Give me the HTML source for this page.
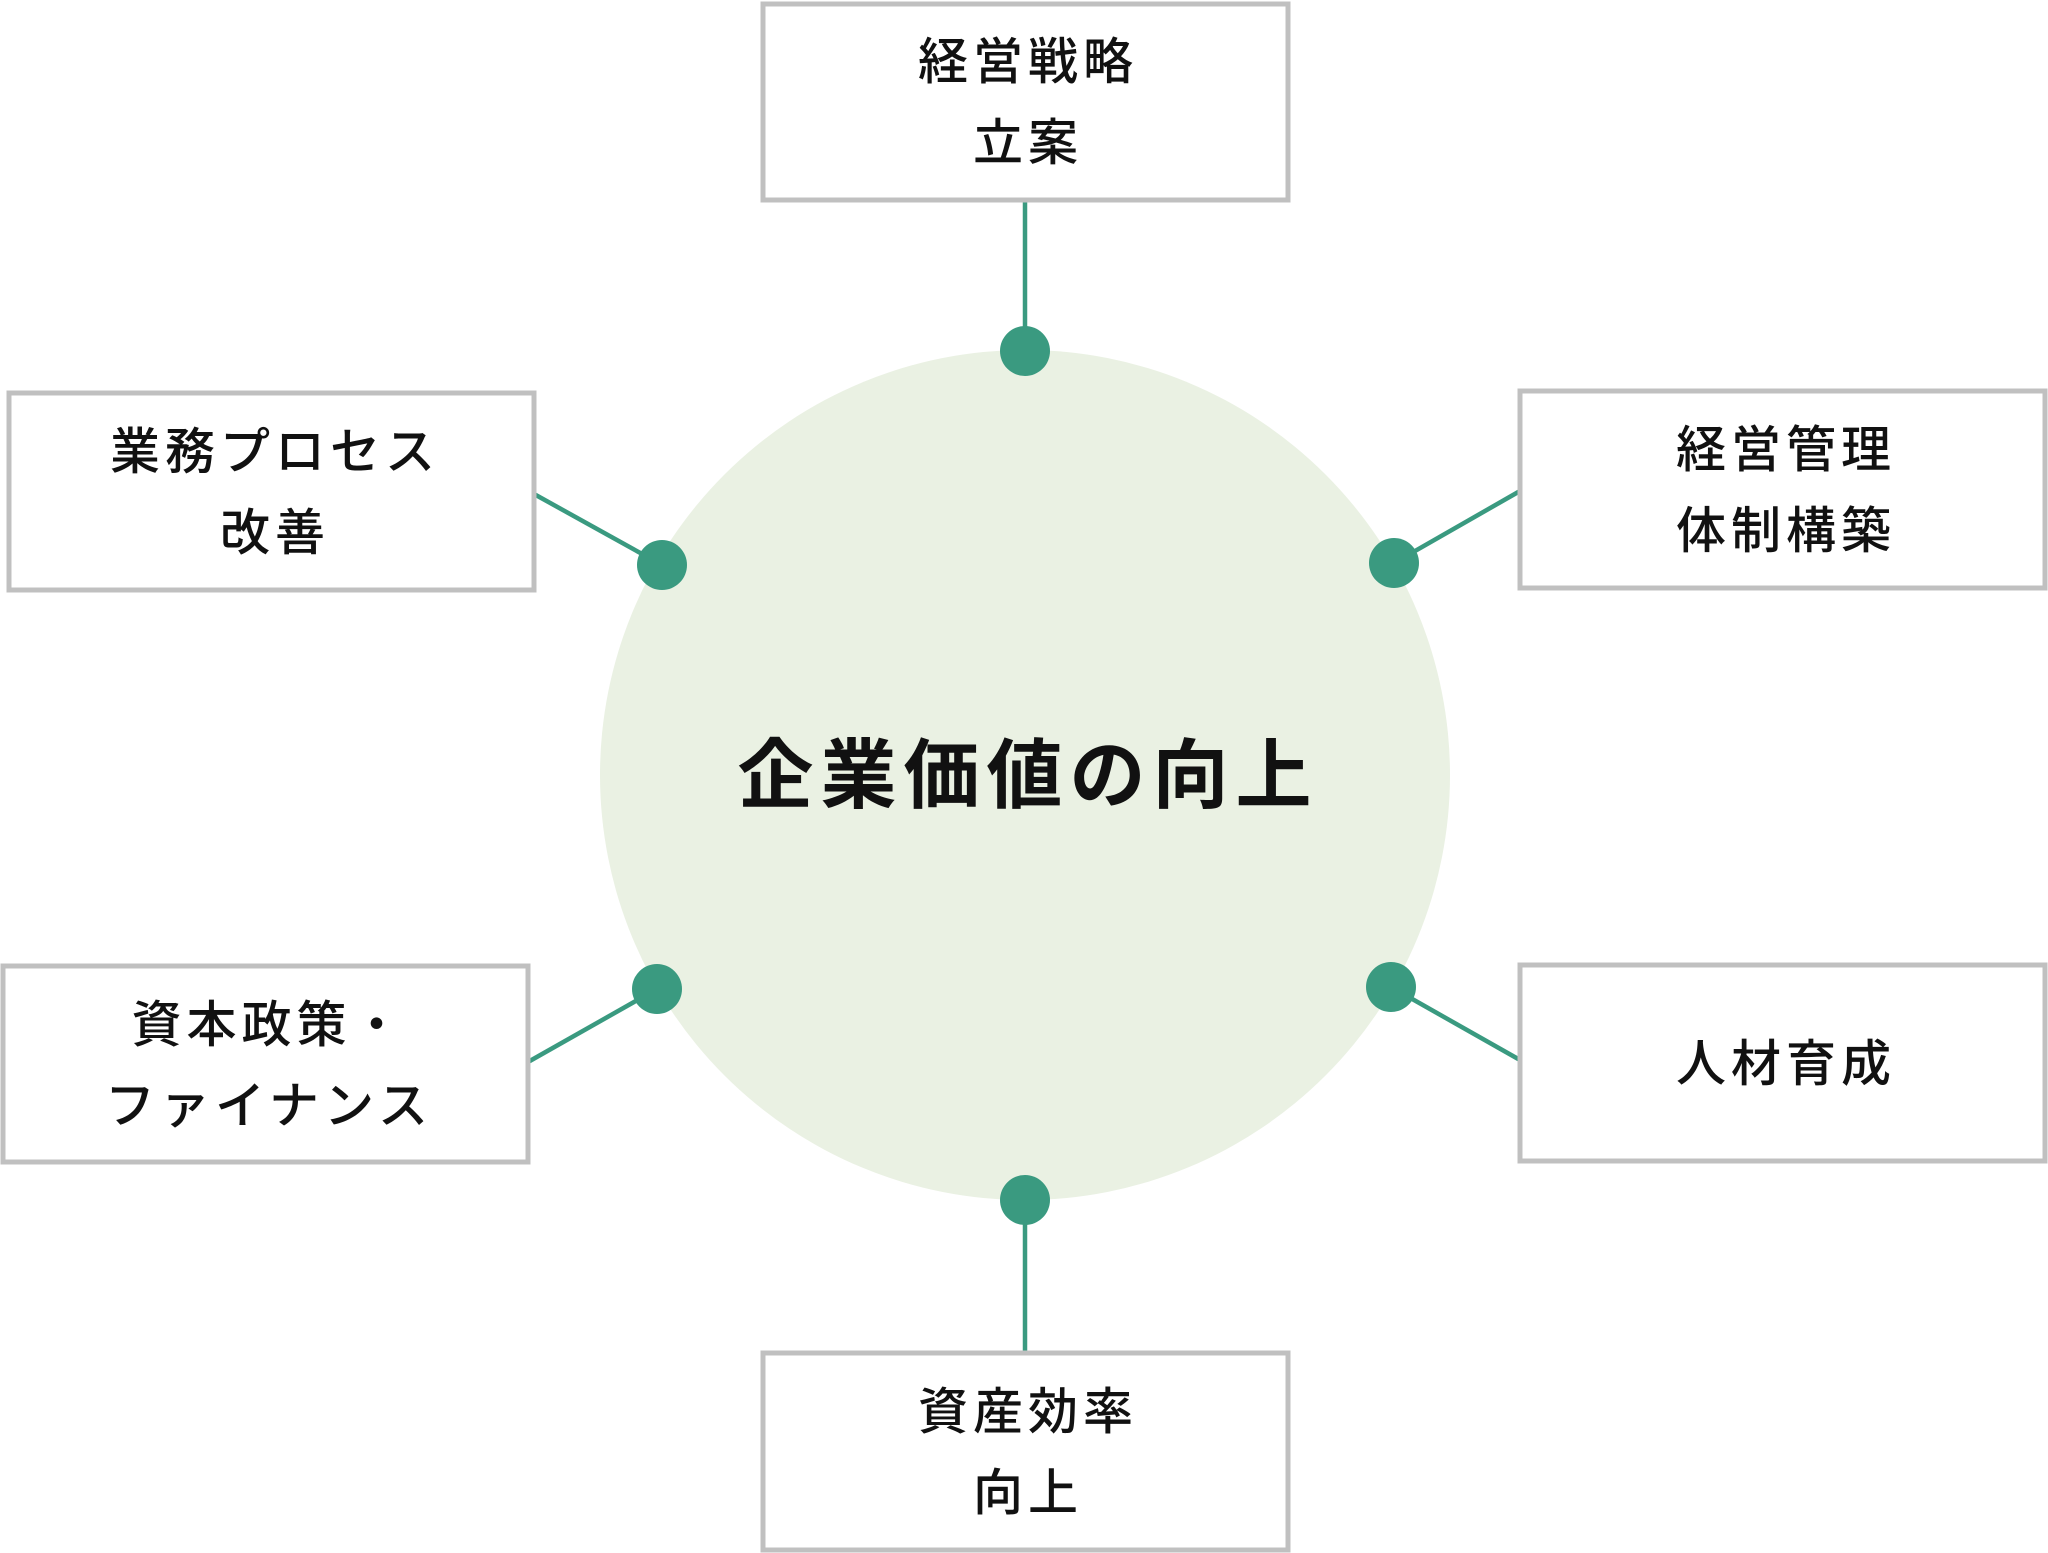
<!DOCTYPE html>
<html><head><meta charset="utf-8"><style>
html,body{margin:0;padding:0;background:#fff;}
svg{display:block;}
text{font-family:"Liberation Sans","Noto Sans CJK JP",sans-serif;fill:#111;}
</style></head><body>
<svg width="2048" height="1553" viewBox="0 0 2048 1553" xmlns="http://www.w3.org/2000/svg">
<circle cx="1025" cy="775" r="425" fill="#eaf1e3"/>
<g stroke="#3a9a80" stroke-width="4.5">
<line x1="1025" y1="200" x2="1025" y2="351"/>
<line x1="1025" y1="1200" x2="1025" y2="1353"/>
<line x1="534" y1="494" x2="662" y2="565"/>
<line x1="1520" y1="491" x2="1394" y2="563"/>
<line x1="528" y1="1062" x2="657" y2="989"/>
<line x1="1520" y1="1060" x2="1391" y2="987"/>
</g>
<g fill="#3a9a80">
<circle cx="1025" cy="351" r="25"/><circle cx="662" cy="565" r="25"/><circle cx="1394" cy="563" r="25"/>
<circle cx="657" cy="989" r="25"/><circle cx="1391" cy="987" r="25"/><circle cx="1025" cy="1200" r="25"/>
</g>
<g fill="#fff" stroke="#c0c0c0" stroke-width="5">
<rect x="763" y="4" width="525" height="196"/>
<rect x="9" y="393" width="525" height="197"/>
<rect x="1520" y="391" width="525" height="197"/>
<rect x="3" y="966" width="525" height="196"/>
<rect x="1520" y="965" width="525" height="196"/>
<rect x="763" y="1353" width="525" height="197"/>
</g>
<g font-size="50" text-anchor="middle" letter-spacing="5" font-weight="500">
<text x="1028" y="79">経営戦略</text><text x="1028" y="160">立案</text>
<text x="275" y="469">業務プロセス</text><text x="275" y="550">改善</text>
<text x="1786" y="467">経営管理</text><text x="1786" y="548">体制構築</text>
<text x="269" y="1042">資本政策・</text><text x="269" y="1123">ファイナンス</text>
<text x="1786" y="1081">人材育成</text>
<text x="1028" y="1429">資産効率</text><text x="1028" y="1510">向上</text>
</g>
<text x="1028" y="802" font-size="76" font-weight="bold" text-anchor="middle" letter-spacing="7">企業価値の向上</text>
</svg>
</body></html>
